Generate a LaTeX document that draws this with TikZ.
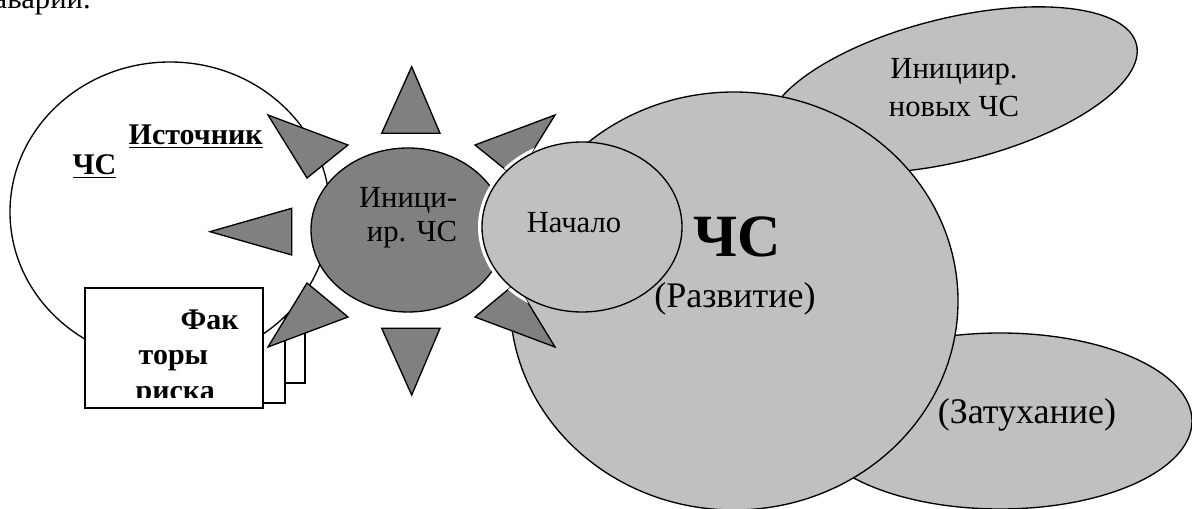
\documentclass[tikz,border=0pt]{standalone}
\usepackage{fontspec}
\setmainfont{Liberation Serif}
\definecolor{sunfill}{HTML}{808080}
\definecolor{phasefill}{HTML}{C0C0C0}
\begin{document}
\begin{tikzpicture}[x=0.75pt,y=0.75pt,line width=1pt,
  plain/.style={draw=black,fill=white},
  phase/.style={draw=black,fill=phasefill},
  ray/.style={draw=black,fill=sunfill,line join=miter},
  body/.style={inner sep=0pt,font=\fontsize{23}{27}\selectfont},
  bodyb/.style={inner sep=0pt,font=\bfseries\fontsize{22.5}{27}\selectfont},
  paren/.style={inner sep=0pt,font=\fontsize{27}{32}\selectfont},
  big/.style={inner sep=0pt,font=\bfseries\fontsize{45}{50}\selectfont}]
\useasboundingbox (0,0) rectangle (1192,-509);
\clip (0,0) rectangle (1192,-509);

% line of running text above the figure
\node[body,anchor=base west] (prev) at (-7,-9) {аварии.};

% stack of risk-factor sheets (back ones)
\draw[plain] (127,-263) rectangle (305,-383);
\draw[plain] (107,-283) rectangle (285,-403);

% source of the emergency
\draw[plain] (170,-212) ellipse [x radius=160, y radius=150];
\node[bodyb,anchor=base west] (src1) at (128,-145) {\underline{Источник}};
\node[bodyb,anchor=base west] (src2) at (72,-175) {\underline{ЧС}};

% front sheet with clipped text
\draw[plain] (85,-288) rectangle (263,-408);
\begin{scope}
  \clip (86,-289) rectangle (262,-398);
  \node[bodyb,anchor=base west] (f1) at (180,-330) {Фак};
  \node[bodyb,anchor=base west] (f2) at (138,-365) {торы};
  \node[bodyb,anchor=base west] (f3) at (135,-401) {риска};
\end{scope}

% later phases
\draw[phase,rotate around={13.9:(952,-90)}] (952,-90) ellipse [x radius=190, y radius=71.6];
\draw[phase] (1000,-421) ellipse [x radius=192, y radius=88];
\draw[phase] (734,-301) ellipse [x radius=224, y radius=209];

% initiating event: core with eight rays
\draw[ray] (411.7,-66.7) -- (381.7,-133.3) -- (440,-133.3) -- cycle;
\draw[ray] (381.7,-328.3) -- (440,-328.3) -- (411.7,-395) -- cycle;
\draw[ray] (210,-231.7) -- (291.7,-208.3) -- (291.7,-255) -- cycle;
\draw[ray] (613,-231.7) -- (531.7,-208.3) -- (531.7,-255) -- cycle;
\draw[ray] (268,-115) -- (348,-145) -- (307,-178) -- cycle;
\draw[ray] (307,-283) -- (348,-317) -- (268,-347) -- cycle;
\draw[ray] (555,-115) -- (475,-145) -- (516,-178) -- cycle;
\draw[ray] (516,-283) -- (475,-317) -- (555,-347) -- cycle;
\draw[ray] (408,-230) ellipse [x radius=97, y radius=82];

% white gap where the start phase overlaps the dark core
\begin{scope}
  \clip (408,-230) ellipse [x radius=98, y radius=83]
        (613,-231.7) -- (531.7,-208.3) -- (531.7,-255) -- cycle
        (555,-115) -- (475,-145) -- (516,-178) -- cycle
        (516,-283) -- (475,-317) -- (555,-347) -- cycle;
  \draw[white,line width=6pt] (582,-227) ellipse [x radius=100, y radius=85];
\end{scope}
\draw[phase] (582,-227) ellipse [x radius=100, y radius=85];

% labels
\node[body,anchor=base] (i1) at (408,-208) {Иници-};
\node[body,anchor=base] (i2) at (412,-242) {ир. ЧС};
\node[body,anchor=base] (start) at (574,-233) {Начало};
\node[big,anchor=base west] (cs) at (693,-257) {ЧС};
\node[paren,anchor=base] (dev) at (735,-308) {(Развитие)};
\node[body,anchor=base] (n1) at (954,-79) {Инициир.};
\node[body,anchor=base] (n2) at (954,-117) {новых ЧС};
\node[paren,anchor=base] (fade) at (1027,-423) {(Затухание)};
\end{tikzpicture}
\end{document}
